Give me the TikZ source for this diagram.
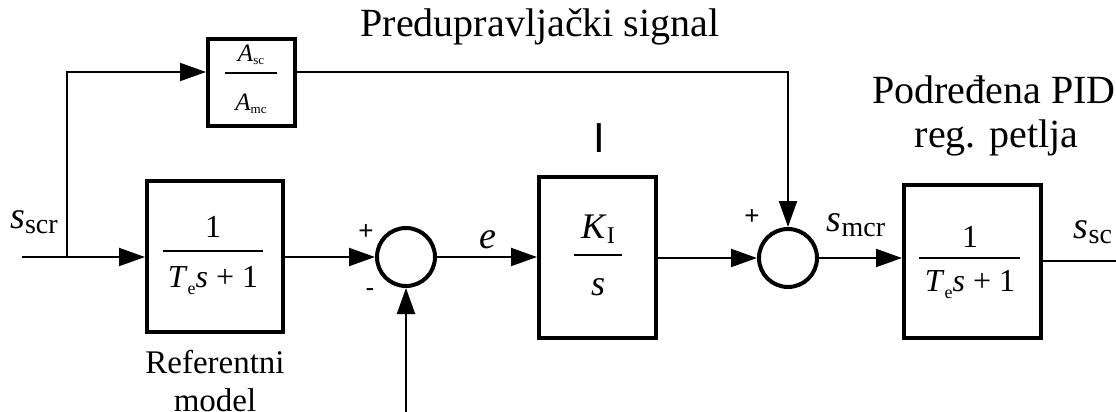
\documentclass[tikz,border=0pt]{standalone}
\usepackage{fontspec}
\setmainfont{Liberation Serif}
\newfontfamily\arialf{Liberation Sans}
\usetikzlibrary{arrows.meta}
\newcommand{\sbs}[2]{\raisebox{-#2pt}{\fontsize{#1}{#1}\selectfont}}
\begin{document}
\begin{tikzpicture}[x=1pt,y=-1pt,
  blk/.style={draw,line width=4pt,inner sep=0pt},
  sumc/.style={draw,circle,line width=4pt,minimum size=58pt,inner sep=0pt},
  conn/.style={line width=2pt},
  arr/.style={conn,-{Triangle[length=26pt,width=18pt]}},
  lbl/.style={inner sep=0pt,font=\fontsize{38}{42}\selectfont},
  big/.style={inner sep=0pt,font=\fontsize{40}{44}\selectfont},
  mid/.style={inner sep=0pt,font=\fontsize{33}{37}\selectfont},
  fr/.style={inner sep=0pt,anchor=base,font=\fontsize{32}{34}\selectfont},
  frs/.style={inner sep=0pt,anchor=base,font=\fontsize{25}{27}\selectfont},
  bar/.style={line width=2pt},
  sgn/.style={inner sep=0pt,font=\arialf\fontsize{26}{28}\selectfont}
]
\useasboundingbox (0,0) rectangle (1116,412);
% blocks
\node[blk,minimum width=87pt,minimum height=86pt] (b0) at (251.5,82.5) {};
\node[frs] (b0n) at (251,62) {\textit{A}\raisebox{-3pt}{\fontsize{13}{13}\selectfont sc}};
\draw[bar] (225,73) -- (277,73);
\node[frs] (b0d) at (251,110) {\textit{A}\raisebox{-3pt}{\fontsize{13}{13}\selectfont mc}};
\node[blk,minimum width=136pt,minimum height=151pt] (b1) at (215,256) {};
\node[fr] (b1n) at (213,237) {1};
\draw[bar] (163,251) -- (263,251);
\node[fr] (b1d) at (213,287) {\textit{T}\raisebox{-7pt}{\fontsize{18}{18}\selectfont e}\textit{s} + 1};
\node[blk,minimum width=117pt,minimum height=161pt] (bk) at (597.5,257.5) {};
\node[fr,font=\fontsize{36}{38}\selectfont] (bkn) at (598,238) {\textit{K}\raisebox{-5pt}{\fontsize{24}{24}\selectfont I}};
\draw[bar] (574,255) -- (622,255);
\node[fr,font=\fontsize{36}{38}\selectfont] (bkd) at (598,295) {\textit{s}};
\node[blk,minimum width=137pt,minimum height=153pt] (b3) at (972.5,261.5) {};
\node[fr] (b3n) at (970,247) {1};
\draw[bar] (919,258) -- (1020,258);
\node[fr] (b3d) at (970,291) {\textit{T}\raisebox{-7pt}{\fontsize{18}{18}\selectfont e}\textit{s} + 1};
% summing junctions
\node[sumc] (s1) at (406,257) {};
\node[sumc] (s2) at (788,258) {};
% coordinates
\coordinate (in) at (22,257);
\coordinate (br) at (67,257);
\coordinate (brt) at (67,72);
\coordinate (ft) at (788,72);
\coordinate (fb) at (406,412);
\coordinate (out) at (1116,261);
% connectors
\draw[arr] (in) -- (b1.west |- in);
\draw[arr] (br) -- (brt) -- (b0.west |- brt);
\draw[arr] (b0.east |- brt) -- (ft) -- (s2.north);
\draw[arr] (b1.east |- s1) -- (s1.west);
\draw[arr] (fb) -- (s1.south);
\draw[arr] (s1.east) -- (bk.west |- s1);
\draw[arr] (bk.east |- s2) -- (s2.west);
\draw[arr] (s2.east) -- (b3.west |- s2);
\draw[conn] (b3.east |- out) -- (out);
% labels
\node[lbl] (lscr) at (34,222) {\textit{s}\fontsize{28}{30}\selectfont\raisebox{-5pt}{scr}};
\node[sgn] (p1) at (366,232) {+};
\node[sgn] (m1) at (370,293) {-};
\node[lbl] (le) at (488,240) {\textit{e}};
\node[inner sep=0pt,font=\arialf\fontsize{42}{44}\selectfont] (lI) at (599,138) {I};
\node[sgn] (p2) at (752,217) {+};
\node[lbl] (lmcr) at (856,225) {\textit{s}\fontsize{28}{30}\selectfont\raisebox{-5pt}{mcr}};
\node[lbl] (lsc) at (1093,232) {\textit{s}\fontsize{28}{30}\selectfont\raisebox{-5pt}{sc}};
\node[big,anchor=base] (t1) at (540,37) {Predupravljački signal};
\node[big,anchor=base west] (t2) at (872,103) {Podređena PID};
\node[big,anchor=base] (t3) at (996.5,147) {reg. petlja};
\node[mid,anchor=base] (t4) at (215,373) {Referentni};
\node[mid,anchor=base] (t5) at (215,411) {model};
\end{tikzpicture}
\end{document}
